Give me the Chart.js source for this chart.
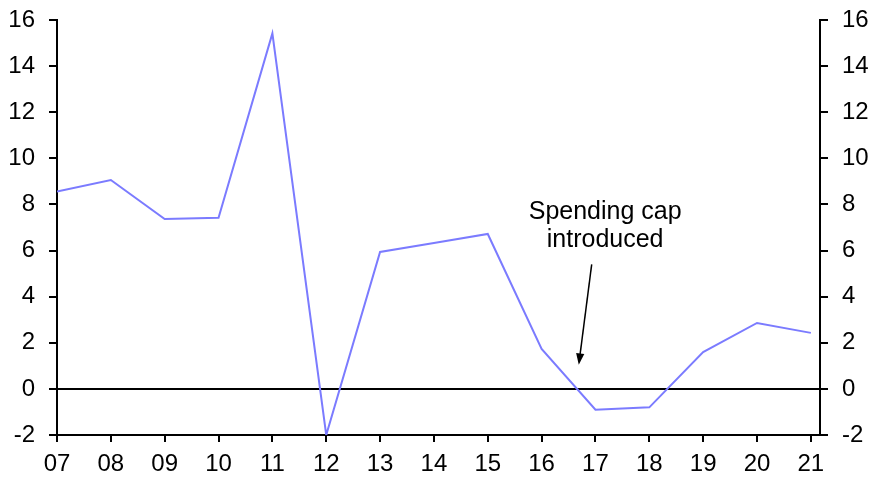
<!DOCTYPE html>
<html>
<head>
<meta charset="utf-8">
<script src="https://cdn.jsdelivr.net/npm/chart.js@4.4.1/dist/chart.umd.min.js"></script>
<style>
  html, body { margin: 0; padding: 0; background: #fff; }
  #wrap { width: 884px; height: 497px; }
</style>
</head>
<body>
<div id="wrap"><canvas id="chart" width="884" height="497"></canvas></div>
<script>
// Data
const years = ['07', '08', '09', '10', '11', '12', '13', '14', '15', '16', '17', '18', '19', '20', '21'];
const growth = [8.56, 9.06, 7.37, 7.42, 15.42, -2.0, 5.94, 6.33, 6.72, 1.73, -0.9, -0.8, 1.6, 2.86, 2.43];
const yTicks = [-2, 0, 2, 4, 6, 8, 10, 12, 14, 16];

// Annotation (in data units)
const noteLines = ['Spending cap', 'introduced'];
const noteAt = { x: 10.18, y: 7.68 };
const arrowFrom = { x: 9.93, y: 5.4 };
const arrowTo = { x: 9.69, y: 1.05 };

const FONT = 'Liberation Sans, Arial, sans-serif';

const annotationPlugin = {
    id: 'note',
    afterDraw(chart) {
        const { ctx, scales: { x, y } } = chart;
        ctx.save();
        ctx.fillStyle = '#000';
        ctx.font = `25px ${FONT}`;
        ctx.textAlign = 'center';
        ctx.textBaseline = 'middle';
        const cx = x.getPixelForValue(noteAt.x);
        const cy = y.getPixelForValue(noteAt.y);
        noteLines.forEach((t, i) => ctx.fillText(t, cx, cy + i * 28));

        // arrow
        const x1 = x.getPixelForValue(arrowFrom.x), y1 = y.getPixelForValue(arrowFrom.y);
        const x2 = x.getPixelForValue(arrowTo.x), y2 = y.getPixelForValue(arrowTo.y);
        const ang = Math.atan2(y2 - y1, x2 - x1);
        const head = 12;
        ctx.strokeStyle = '#000';
        ctx.lineWidth = 1.5;
        ctx.beginPath();
        ctx.moveTo(x1, y1);
        ctx.lineTo(x2 - head * 0.8 * Math.cos(ang), y2 - head * 0.8 * Math.sin(ang));
        ctx.stroke();
        ctx.beginPath();
        ctx.moveTo(x2, y2);
        ctx.lineTo(x2 - head * Math.cos(ang - 0.35), y2 - head * Math.sin(ang - 0.35));
        ctx.lineTo(x2 - head * Math.cos(ang + 0.35), y2 - head * Math.sin(ang + 0.35));
        ctx.closePath();
        ctx.fill();
        ctx.restore();
    }
};

const tickFont = { family: FONT, size: 24 };

// fixed axis sizes so the plot area matches the original
function fixSize(size) {
    return axis => {
        if (axis.isHorizontal()) axis.height = size; else axis.width = size;
        axis.paddingTop = 0;
        axis.paddingBottom = 0;
        axis.paddingLeft = 0;
        axis.paddingRight = 0;
    };
}

new Chart(document.getElementById('chart'), {
    type: 'line',
    data: {
        datasets: [{
            data: growth.map((v, i) => ({ x: i, y: v })),
            borderColor: '#7b7bff',
            borderWidth: 2,
            pointRadius: 0,
            tension: 0
        }]
    },
    options: {
        responsive: false,
        animation: false,
        layout: { padding: { top: 20, right: 0, left: 0, bottom: 0 } },
        plugins: { legend: { display: false }, tooltip: { enabled: false } },
        scales: {
            x: {
                type: 'linear',
                min: 0,
                max: 14.17,
                afterBuildTicks: axis => { axis.ticks = years.map((_, i) => ({ value: i })); },
                afterFit: fixSize(62),
                ticks: {
                    callback: v => years[v],
                    color: '#000',
                    font: tickFont,
                    padding: 8,
                    maxRotation: 0,
                    autoSkip: false
                },
                grid: { drawOnChartArea: false, color: '#000', lineWidth: 2, tickLength: 7 },
                border: { color: '#000', width: 2 }
            },
            y: {
                position: 'left',
                min: -2,
                max: 16,
                afterBuildTicks: axis => { axis.ticks = yTicks.map(v => ({ value: v })); },
                afterFit: fixSize(57),
                ticks: { color: '#000', font: tickFont, padding: 14 },
                grid: {
                    color: c => (c.tick && c.tick.value === 0 ? '#000' : 'rgba(0,0,0,0)'),
                    tickColor: '#000',
                    lineWidth: 2,
                    tickLength: 8
                },
                border: { color: '#000', width: 2 }
            },
            y2: {
                position: 'right',
                min: -2,
                max: 16,
                afterBuildTicks: axis => { axis.ticks = yTicks.map(v => ({ value: v })); },
                afterFit: fixSize(64),
                ticks: { color: '#000', font: tickFont, padding: 14 },
                grid: { drawOnChartArea: false, color: '#000', lineWidth: 2, tickLength: 8 },
                border: { color: '#000', width: 2 }
            }
        }
    },
    plugins: [annotationPlugin]
});
</script>
</body>
</html>
